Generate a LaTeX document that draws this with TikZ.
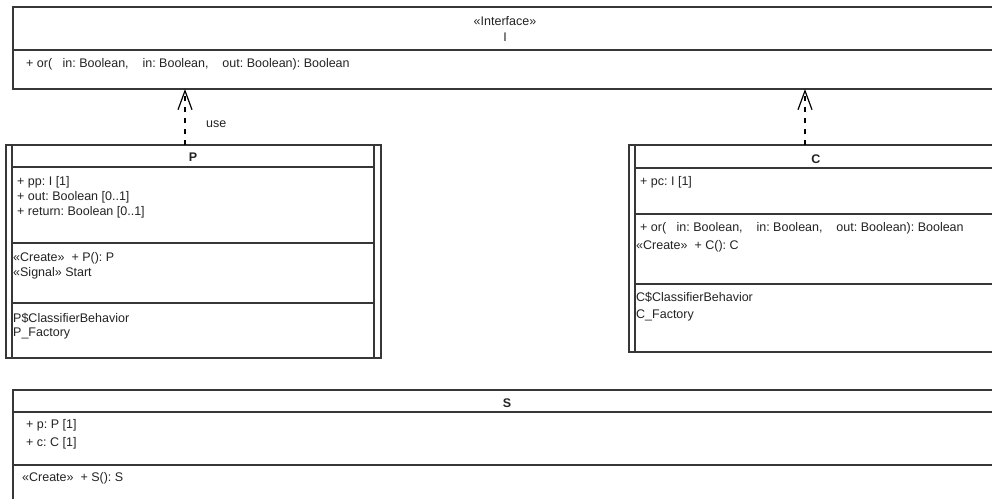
\documentclass[tikz,border=0pt]{standalone}
\usepackage{fontspec}
\newfontfamily\umlfont{Liberation Sans}
\usetikzlibrary{arrows.meta,positioning,calc}
\definecolor{ink}{RGB}{35,35,35}
\definecolor{rule}{RGB}{55,55,55}
\frenchspacing
\tikzset{
  classbox/.style={draw=rule, line width=1.6pt, rectangle, inner sep=0pt, outer sep=0pt},
  sep/.style={draw=rule, line width=1.6pt},
  txt/.style={anchor=west, inner sep=0pt, text=ink, font=\umlfont\fontsize{12.5}{14}\selectfont},
  nametxt/.style={inner sep=0pt, text=ink, font=\umlfont\bfseries\fontsize{12.5}{14}\selectfont},
  dep/.style={-{Straight Barb[length=19pt,width=14pt,line width=1.2pt]}, draw=black, line width=1.3pt,
              dash pattern=on 5pt off 6pt},
}

\begin{document}
\begin{tikzpicture}[x=1pt,y=-1pt]
        \useasboundingbox (0,0) rectangle (992,498);
        \clip (0,0) rectangle (992,498);
        % interface I
        \node[classbox,minimum width=987pt,minimum height=82pt] (I) at (506.5,48) {};
        \draw[sep] (13,50) -- (1000,50);
        \node[nametxt,font=\umlfont\fontsize{12.5}{14}\selectfont] (Ist) at (505,21) {«Interface»};
        \node[nametxt,font=\umlfont\fontsize{12.5}{14}\selectfont] (Iname) at (505,37) {I};
        \node[txt] (Iop) at (26,64) {+ or(\ \ \ in: Boolean,\ \ \ \ in: Boolean,\ \ \ \ out: Boolean): Boolean};
        % active class P
        \node[classbox,minimum width=375pt,minimum height=213pt] (P) at (193.5,251.5) {};
        \draw[sep] (12,145) -- (12,358) (374,145) -- (374,358);
        \draw[sep] (12,167) -- (374,167) (12,243) -- (374,243) (12,303) -- (374,303);
        \node[nametxt] (Pname) at (193,157) {P};
        \node[txt] (Pa1) at (17,182) {+ pp: I [1]};
        \node[txt] (Pa2) at (17,197) {+ out: Boolean [0..1]};
        \node[txt] (Pa3) at (17,212) {+ return: Boolean [0..1]};
        \node[txt] (Po1) at (13,258) {«Create»\ \ + P(): P};
        \node[txt] (Po2) at (13,273) {«Signal» Start};
        \node[txt] (Pb1) at (13,318) {P\$ClassifierBehavior};
        \node[txt] (Pb2) at (13,333) {P\_Factory};
        % active class C
        \node[classbox,minimum width=374pt,minimum height=207pt] (C) at (816,248.5) {};
        \draw[sep] (635,145) -- (635,352) (997,145) -- (997,352);
        \draw[sep] (635,168) -- (997,168) (635,214) -- (997,214) (635,284) -- (997,284);
        \node[nametxt] (Cname) at (816,159) {C};
        \node[txt] (Ca1) at (640,182) {+ pc: I [1]};
        \node[txt] (Co1) at (640,228) {+ or(\ \ \ in: Boolean,\ \ \ \ in: Boolean,\ \ \ \ out: Boolean): Boolean};
        \node[txt] (Co2) at (636,246) {«Create»\ \ + C(): C};
        \node[txt] (Cb1) at (636,297) {C\$ClassifierBehavior};
        \node[txt] (Cb2) at (636,315) {C\_Factory};
        % class S
        \node[classbox,minimum width=987pt,minimum height=140pt] (S) at (506.5,460) {};
        \draw[sep] (13,412) -- (1000,412) (13,465) -- (1000,465);
        \node[nametxt] (Sname) at (507,403) {S};
        \node[txt] (Sa1) at (26,425) {+ p: P [1]};
        \node[txt] (Sa2) at (26,443) {+ c: C [1]};
        \node[txt] (So1) at (22,478) {«Create»\ \ + S(): S};
        % realizations / usage
        \draw[dep] ([xshift=-8.5pt]P.north) -- ([xshift=-8.5pt]P.north |- I.south);
        \node[txt] (use) at (206,124) {use};
        \draw[dep] ([xshift=-11pt]C.north) -- ([xshift=-11pt]C.north |- I.south);
\end{tikzpicture}
\end{document}
